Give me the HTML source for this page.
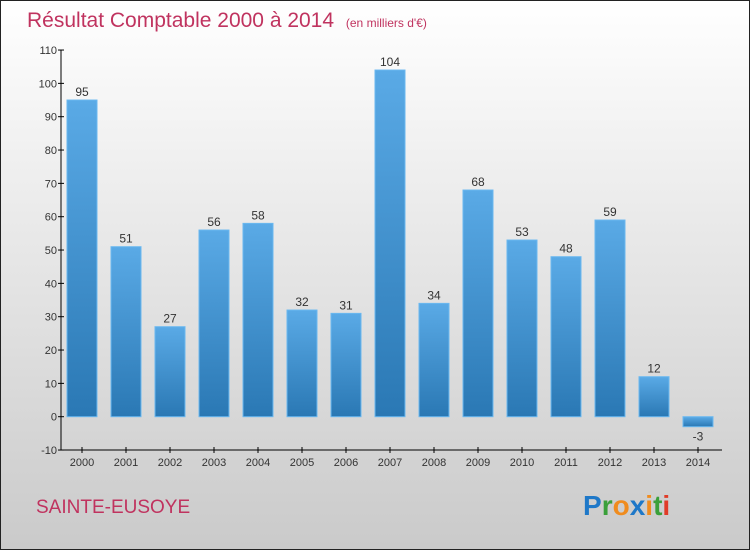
<!DOCTYPE html>
<html><head><meta charset="utf-8"><style>
body{margin:0;width:750px;height:550px;overflow:hidden}
svg{display:block;font-family:"Liberation Sans",sans-serif}
</style></head><body>
<svg id="c" width="750" height="550">
<defs>
<linearGradient id="bg" x1="0" y1="0" x2="0" y2="1"><stop offset="0" stop-color="#ffffff"/><stop offset="1" stop-color="#cacaca"/></linearGradient>
<linearGradient id="bar" x1="0" y1="0" x2="0" y2="1"><stop offset="0" stop-color="#5aaae6"/><stop offset="1" stop-color="#2a78b4"/></linearGradient>
</defs>
<rect x="0.5" y="0.5" width="749" height="549" fill="url(#bg)" stroke="#222"/>
<text x="27" y="27" font-size="21" fill="#c0335f">Résultat Comptable 2000 à 2014 <tspan font-size="12" dx="6">(en milliers d'€)</tspan></text>
<text x="36" y="513" font-size="19" fill="#c0335f">SAINTE-EUSOYE</text>
<text x="583" y="515" font-size="28" font-weight="bold"><tspan fill="#1e78c8">P</tspan><tspan fill="#3aa03a">r</tspan><tspan fill="#f08c1e">o</tspan><tspan fill="#1e78c8">x</tspan><tspan fill="#f08c1e">i</tspan><tspan fill="#3aa03a">t</tspan><tspan fill="#e03c28">i</tspan></text>
<g id="plot"></g>
</svg>
<script>
const years=["2000","2001","2002","2003","2004","2005","2006","2007","2008","2009","2010","2011","2012","2013","2014"];
const values=[95,51,27,56,58,32,31,104,34,68,53,48,59,12,-3];
const ticks=[-10,0,10,20,30,40,50,60,70,80,90,100,110];
const NS="http://www.w3.org/2000/svg";
const g=document.getElementById('plot');
const y=v=>416.7-(v*400/120);
const x=i=>82+44*i;
function mk(t,a,txt){const e=document.createElementNS(NS,t);for(const k in a)e.setAttribute(k,a[k]);if(txt!==undefined)e.textContent=txt;g.appendChild(e);return e;}
let ax=mk('line',{x1:61,y1:50,x2:61,y2:450,stroke:'#000'});


let bx=mk('line',{x1:61,y1:450,x2:722,y2:450,stroke:'#000'});


ticks.forEach(t=>{
 let l=mk('line',{x1:58,y1:y(t),x2:64,y2:y(t),stroke:'#000'});
 
 
 let tx=mk('text',{x:57,y:y(t)+4,'font-size':11,'text-anchor':'end',fill:'#333'},String(t));
 
 
});
years.forEach((yr,i)=>{
 const v=values[i];
 const top=Math.min(y(v),y(0)),h=Math.abs(y(v)-y(0));
 let r=mk('rect',{x:x(i)-15,y:top,width:30,height:h,fill:'url(#bar)',stroke:'#6ab8f0','stroke-width':1});
 
 
 let vl=mk('text',{x:x(i),y:v>=0?y(v)-4:y(v)+14,'font-size':12,'text-anchor':'middle',fill:'#333'},String(v));
 
 
 let tk=mk('line',{x1:x(i),y1:447,x2:x(i),y2:453,stroke:'#000'});
 
 
 let xl=mk('text',{x:x(i),y:466,'font-size':11,'text-anchor':'middle',fill:'#333'},yr);
 
 
});
</script>
</body></html>
